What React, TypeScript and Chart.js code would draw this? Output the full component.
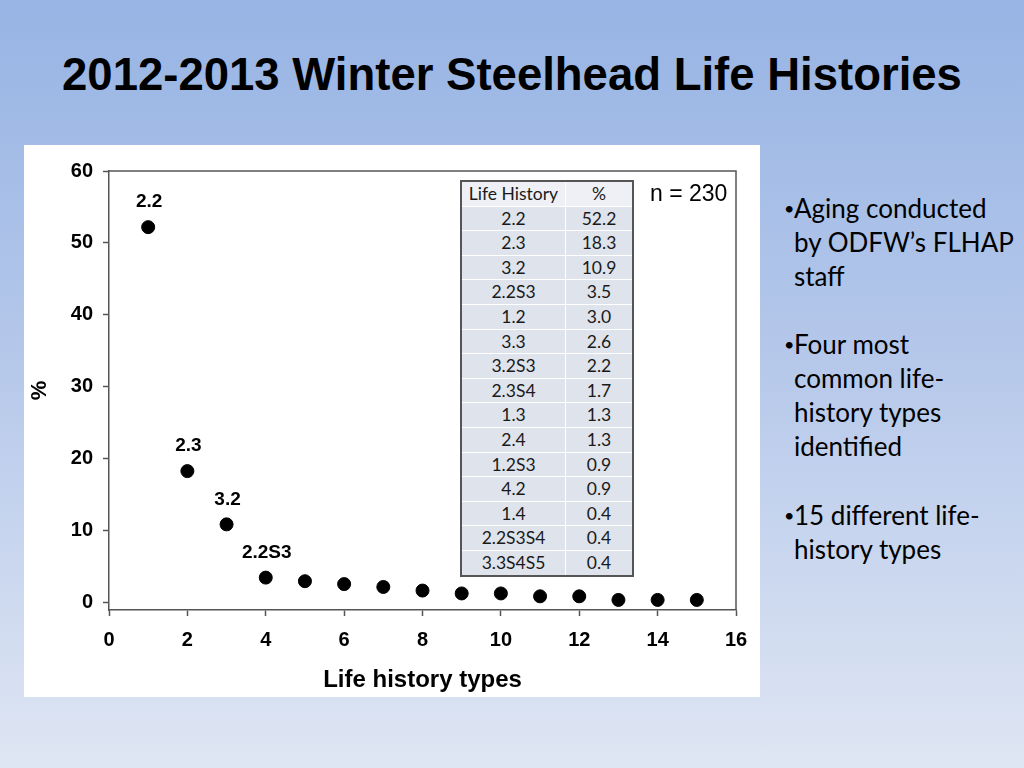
import React, { useEffect, useRef } from "react";
import { Chart, registerables } from "chart.js";

Chart.register(...registerables);

// ---- data ----
const lifeHistoryIndex = [1, 2, 3, 4, 5, 6, 7, 8, 9, 10, 11, 12, 13, 14, 15];
const percentValues = [52.2, 18.3, 10.9, 3.5, 3.0, 2.6, 2.2, 1.7, 1.3, 1.3, 0.9, 0.9, 0.4, 0.4, 0.4];
const pointLabels = ["2.2", "2.3", "3.2", "2.2S3"];
const tableTypes = ["2.2", "2.3", "3.2", "2.2S3", "1.2", "3.3", "3.2S3", "2.3S4", "1.3", "2.4", "1.2S3", "4.2", "1.4", "2.2S3S4", "3.3S4S5"];
const tablePercents = ["52.2", "18.3", "10.9", "3.5", "3.0", "2.6", "2.2", "1.7", "1.3", "1.3", "0.9", "0.9", "0.4", "0.4", "0.4"];
const xMin = 0;
const xMax = 16;
const xStep = 2;
const yMin = -1;
const yMax = 60;
const yTickValues = [0, 10, 20, 30, 40, 50, 60];

const titleText = "2012-2013 Winter Steelhead Life Histories";
const sampleText = "n = 230";
const bulletLines: string[][] = [
  ["Aging conducted", "by ODFW’s FLHAP", "staff"],
  ["Four most", "common life-", "history types", "identified"],
  ["15 different life-", "history types"],
];

const ARIAL = '"Liberation Sans", Arial, sans-serif';
const BODY = 'Lato, "Open Sans", sans-serif';

const framePlugin = {
  id: "frameAndLabels",
  afterDatasetsDraw(chart: any) {
    const { ctx, chartArea } = chart;
    const { left, top, right, bottom } = chartArea;
    ctx.save();
    ctx.strokeStyle = "#555555";
    ctx.lineWidth = 1.5;
    ctx.beginPath();
    ctx.moveTo(left, top);
    ctx.lineTo(right, top);
    ctx.lineTo(right, bottom);
    ctx.stroke();

    const meta = chart.getDatasetMeta(0);
    ctx.fillStyle = "#000000";
    ctx.font = `bold 19px ${ARIAL}`;
    ctx.textAlign = "center";
    ctx.textBaseline = "middle";
    pointLabels.forEach((label, i) => {
      const p = meta.data[i];
      if (p) ctx.fillText(label, p.x + 1, p.y - 25);
    });
    ctx.restore();
  },
};

function ScatterChart() {
  const ref = useRef<HTMLCanvasElement | null>(null);
  useEffect(() => {
    if (!ref.current) return;
    const data = lifeHistoryIndex.map((x, i) => ({ x, y: percentValues[i] }));
    const chart = new Chart(ref.current, {
      type: "scatter",
      data: {
        datasets: [
          {
            data,
            backgroundColor: "#000000",
            borderColor: "#000000",
            pointRadius: 6.5,
            pointHoverRadius: 6.5,
          },
        ],
      },
      options: {
        responsive: false,
        animation: false,
        events: [],
        layout: { padding: { top: 26, right: 24, left: 0, bottom: 0 } },
        plugins: {
          legend: { display: false },
          tooltip: { enabled: false },
        },
        scales: {
          x: {
            type: "linear",
            min: xMin,
            max: xMax,
            afterFit: (scale: any) => {
              scale.height = 87;
            },
            ticks: {
              stepSize: xStep,
              color: "#000000",
              font: { family: ARIAL, size: 20, weight: "bold" },
              padding: 12,
              maxRotation: 0,
            },
            grid: {
              drawOnChartArea: false,
              drawTicks: true,
              tickLength: 6,
              tickColor: "#555555",
              tickWidth: 1.5,
            },
            border: { display: true, color: "#555555", width: 1.5 },
            title: {
              display: true,
              text: "Life history types",
              color: "#000000",
              font: { family: ARIAL, size: 24, weight: "bold" },
              padding: { top: 0, bottom: 2 },
            },
          },
          y: {
            type: "linear",
            min: yMin,
            max: yMax,
            afterFit: (scale: any) => {
              scale.width = 85;
            },
            afterBuildTicks: (scale: any) => {
              scale.ticks = yTickValues.map((v) => ({ value: v }));
            },
            ticks: {
              color: "#000000",
              font: { family: ARIAL, size: 20, weight: "bold" },
              padding: 10,
            },
            grid: {
              drawOnChartArea: false,
              drawTicks: true,
              tickLength: 6,
              tickColor: "#555555",
              tickWidth: 1.5,
            },
            border: { display: true, color: "#555555", width: 1.5 },
            title: {
              display: true,
              text: "%",
              color: "#000000",
              font: { family: ARIAL, size: 22, weight: "bold" },
              padding: { top: 3, bottom: 0 },
            },
          },
        },
      },
      plugins: [framePlugin],
    } as any);
    return () => chart.destroy();
  }, []);
  return <canvas ref={ref} width={736} height={552} style={{ display: "block", width: 736, height: 552 }} />;
}

export default function App() {
  const cellBase: React.CSSProperties = {
    textAlign: "center",
    padding: 0,
    height: 23.6,
    lineHeight: "23.6px",
    borderRight: "1px solid #ffffff",
    borderBottom: "1px solid #ffffff",
    whiteSpace: "nowrap",
  };
  return (
    <div
      style={{
        position: "absolute",
        left: 0,
        top: 0,
        width: 1024,
        height: 768,
        overflow: "hidden",
        background: "linear-gradient(180deg, #97b4e4 0%, #b4c7ea 45%, #dfe6f3 100%)",
        fontFamily: ARIAL,
      }}
    >
      <div
        style={{
          position: "absolute",
          left: 0,
          top: 48,
          width: 1024,
          textAlign: "center",
          fontFamily: ARIAL,
          fontWeight: "bold",
          fontSize: 45.5,
          lineHeight: "54px",
          color: "#000000",
          whiteSpace: "nowrap",
        }}
      >
        {titleText}
      </div>

      <div
        style={{
          position: "absolute",
          left: 24,
          top: 145,
          width: 736,
          height: 552,
          background: "#ffffff",
        }}
      >
        <ScatterChart />
        <div
          style={{
            position: "absolute",
            left: 436,
            top: 35,
            width: 174,
            border: "2px solid #555555",
            boxSizing: "border-box",
            background: "#dfe3ec",
          }}
        >
          <table
            style={{
              borderCollapse: "collapse",
              width: "100%",
              fontFamily: BODY,
              fontSize: 17.5,
              color: "#1a1a1a",
            }}
          >
            <tbody>
              <tr style={{ background: "#eef0f5" }}>
                <td style={{ ...cellBase, width: 103 }}>Life History</td>
                <td style={{ ...cellBase, borderRight: "none" }}>%</td>
              </tr>
              {tableTypes.map((t, i) => (
                <tr key={t}>
                  <td style={{ ...cellBase, width: 103, borderBottom: i === tableTypes.length - 1 ? "none" : cellBase.borderBottom }}>{t}</td>
                  <td style={{ ...cellBase, borderRight: "none", borderBottom: i === tableTypes.length - 1 ? "none" : cellBase.borderBottom }}>{tablePercents[i]}</td>
                </tr>
              ))}
            </tbody>
          </table>
        </div>
        <div
          style={{
            position: "absolute",
            left: 626,
            top: 34,
            fontFamily: ARIAL,
            fontSize: 23,
            lineHeight: "28px",
            color: "#000000",
            whiteSpace: "nowrap",
          }}
        >
          {sampleText}
        </div>
      </div>

      <div
        style={{
          position: "absolute",
          left: 784,
          top: 191,
          fontFamily: BODY,
          fontSize: 26,
          lineHeight: "34px",
          color: "#000000",
          whiteSpace: "nowrap",
        }}
      >
        {bulletLines.map((lines, bi) => (
          <div key={bi} style={{ marginBottom: bi === 0 ? 34 : 35 }}>
            {lines.map((line, li) => (
              <div key={li} style={{ position: "relative", paddingLeft: 10 }}>
                {li === 0 && <span style={{ position: "absolute", left: 0, fontSize: 18 }}>•</span>}
                {line}
              </div>
            ))}
          </div>
        ))}
      </div>
    </div>
  );
}
